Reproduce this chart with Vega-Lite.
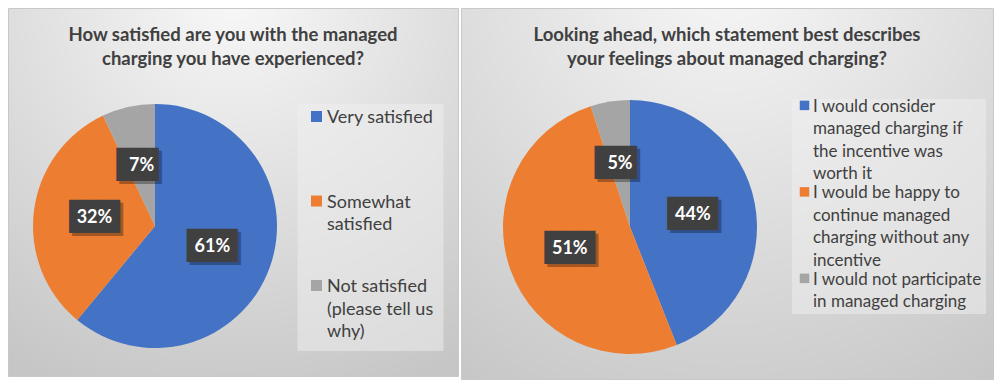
{
  "$schema": "https://vega.github.io/schema/vega-lite/v6.json",
  "background": "white",
  "padding": {"left": 7, "top": 7, "right": 0, "bottom": 0},
  "spacing": 1,
  "config": {
    "font": "Lato",
    "style": {"guide-label": {"lineHeight": 22.5}}
  },
  "resolve": {"scale": {"color": "independent", "theta": "independent"}, "legend": {"color": "independent"}},
  "hconcat": [
    {
      "width": 450,
      "height": 368,
      "view": {"fill": {"gradient": "radial", "x1": 0.5, "y1": 0.05, "r1": 0, "x2": 0.5, "y2": 0.05, "r2": 0.95, "stops": [{"offset": 0, "color": "#f8f8f8"}, {"offset": 1, "color": "#c6c6c6"}]}, "stroke": "#c8c8c8", "strokeWidth": 1},
      "title": {"text": ["How satisfied are you with the managed", "charging you have experienced?"], "fontSize": 18.5, "fontWeight": "bold", "color": "#404040", "lineHeight": 24, "baseline": "top", "offset": -60, "anchor": "middle", "frame": "group"},
      "data": {"values": [
        {"category": "Very satisfied", "share": 0.61, "rank": 1},
        {"category": "Somewhat satisfied", "share": 0.32, "rank": 2},
        {"category": "Not satisfied (please tell us why)", "share": 0.07, "rank": 3}
      ]},
      "encoding": {
        "theta": {"field": "share", "type": "quantitative", "stack": true},
        "order": {"field": "rank", "type": "quantitative"}
      },
      "layer": [
        {
          "mark": {"type": "arc", "outerRadius": 122, "x": 147, "y": 218},
          "encoding": {
            "color": {
              "field": "category", "type": "nominal",
              "scale": {"domain": ["Very satisfied", "Somewhat satisfied", "Not satisfied (please tell us why)"], "range": ["#4472C4", "#ED7D31", "#A5A5A5"]},
              "legend": {
                "title": null, "orient": "none", "legendX": 289.5, "legendY": 96,
                "fillColor": "rgba(240,240,240,0.5)", "padding": 10,
                "symbolType": "M-1,-2.18H1V-0.18H-1Z", "symbolSize": 121, "symbolStrokeWidth": 0,
                "labelFontSize": 18, "labelColor": "#404040", "labelBaseline": "alphabetic", "labelOffset": 1.5, "labelLimit": 300,
                "gridAlign": "all", "rowPadding": 21.5,
                "labelExpr": "datum.label == 'Somewhat satisfied' ? ['Somewhat', 'satisfied'] : datum.label == 'Not satisfied (please tell us why)' ? ['Not satisfied', '(please tell us', 'why)'] : datum.label"
              }
            }
          }
        },
        {
          "mark": {"type": "text", "radius": 61, "x": 147, "y": 218, "font": "DejaVu Sans Mono", "fontSize": 28, "color": "#000000", "opacity": 0.3, "dx": 3, "dy": 3},
          "encoding": {"text": {"condition": {"test": "datum.share < 0.1", "value": "██▌"}, "value": "███"}}
        },
        {
          "mark": {"type": "text", "radius": 61, "x": 147, "y": 218, "font": "DejaVu Sans Mono", "fontSize": 28, "color": "#404040"},
          "encoding": {"text": {"condition": {"test": "datum.share < 0.1", "value": "██▌"}, "value": "███"}}
        },
        {
          "mark": {"type": "text", "radius": 61, "x": 147, "y": 218, "fontSize": 18, "fontWeight": "bold", "color": "#ffffff"},
          "encoding": {"text": {"field": "share", "type": "quantitative", "format": ".0%"}}
        }
      ]
    },
    {
      "width": 532,
      "height": 371,
      "view": {"fill": {"gradient": "radial", "x1": 0.5, "y1": 0.05, "r1": 0, "x2": 0.5, "y2": 0.05, "r2": 0.95, "stops": [{"offset": 0, "color": "#f8f8f8"}, {"offset": 1, "color": "#c6c6c6"}]}, "stroke": "#c8c8c8", "strokeWidth": 1},
      "title": {"text": ["Looking ahead, which statement best describes", "your feelings about managed charging?"], "fontSize": 18.5, "fontWeight": "bold", "color": "#404040", "lineHeight": 24, "baseline": "top", "offset": -60, "anchor": "middle", "frame": "group"},
      "data": {"values": [
        {"category": "I would consider managed charging if the incentive was worth it", "share": 0.44, "rank": 1},
        {"category": "I would be happy to continue managed charging without any incentive", "share": 0.51, "rank": 2},
        {"category": "I would not participate in managed charging", "share": 0.05, "rank": 3}
      ]},
      "encoding": {
        "theta": {"field": "share", "type": "quantitative", "stack": true},
        "order": {"field": "rank", "type": "quantitative"}
      },
      "layer": [
        {
          "mark": {"type": "arc", "outerRadius": 127, "x": 169, "y": 219},
          "encoding": {
            "color": {
              "field": "category", "type": "nominal",
              "scale": {"domain": ["I would consider managed charging if the incentive was worth it", "I would be happy to continue managed charging without any incentive", "I would not participate in managed charging"], "range": ["#4472C4", "#ED7D31", "#A5A5A5"]},
              "legend": {
                "title": null, "orient": "none", "legendX": 331, "legendY": 91,
                "fillColor": "rgba(240,240,240,0.5)", "padding": 4,
                "symbolType": "M-1,-2.29H1V-0.29H-1Z", "symbolSize": 90, "symbolStrokeWidth": 0,
                "labelFontSize": 17, "labelColor": "#404040", "labelBaseline": "alphabetic", "labelOffset": 0, "labelLimit": 300,
                "gridAlign": "all", "rowPadding": 1.5,
                "labelExpr": "datum.label == 'I would consider managed charging if the incentive was worth it' ? ['I would consider', 'managed charging if', 'the incentive was', 'worth it'] : datum.label == 'I would be happy to continue managed charging without any incentive' ? ['I would be happy to', 'continue managed', 'charging without any', 'incentive'] : ['I would not participate', 'in managed charging']"
              }
            }
          }
        },
        {
          "mark": {"type": "text", "radius": 64, "x": 169, "y": 219, "font": "DejaVu Sans Mono", "fontSize": 28, "color": "#000000", "opacity": 0.3, "dx": 3, "dy": 3},
          "encoding": {"text": {"condition": {"test": "datum.share < 0.1", "value": "██▌"}, "value": "███"}}
        },
        {
          "mark": {"type": "text", "radius": 64, "x": 169, "y": 219, "font": "DejaVu Sans Mono", "fontSize": 28, "color": "#404040"},
          "encoding": {"text": {"condition": {"test": "datum.share < 0.1", "value": "██▌"}, "value": "███"}}
        },
        {
          "mark": {"type": "text", "radius": 64, "x": 169, "y": 219, "fontSize": 18, "fontWeight": "bold", "color": "#ffffff"},
          "encoding": {"text": {"field": "share", "type": "quantitative", "format": ".0%"}}
        }
      ]
    }
  ]
}
